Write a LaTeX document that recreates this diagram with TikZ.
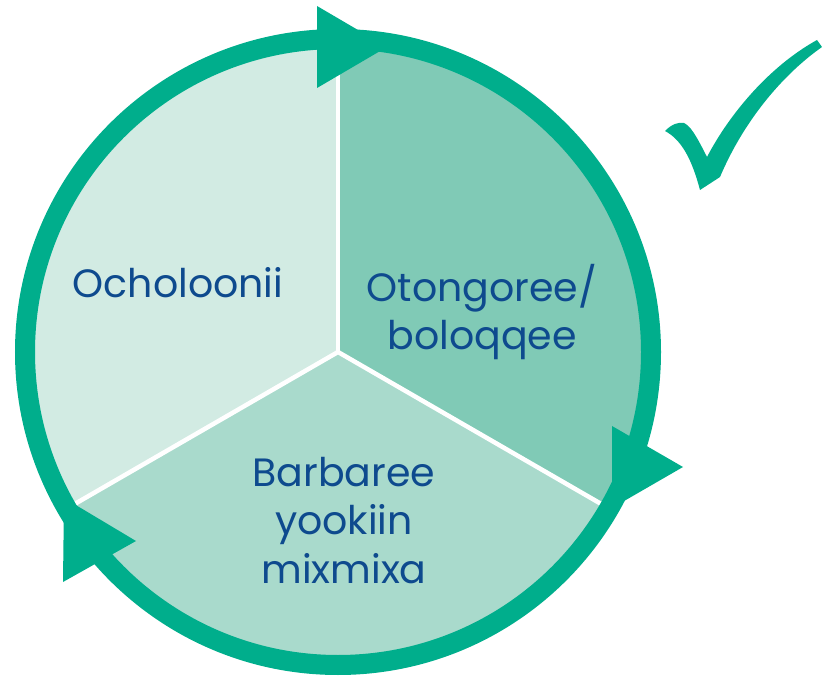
\documentclass[tikz,border=0pt]{standalone}
\usepackage{fontspec}
\setmainfont{Poppins}
\definecolor{ringc}{HTML}{00AE8C}
\definecolor{secA}{HTML}{D2EBE3}
\definecolor{secB}{HTML}{80CAB6}
\definecolor{secC}{HTML}{A9DACC}
\definecolor{txtc}{HTML}{0E4A8E}
\begin{document}
\begin{tikzpicture}[x=1pt,y=1pt,
  lbl/.style={text=txtc,font=\fontsize{39.5}{48.5}\selectfont,align=center,inner sep=0pt},
  divider/.style={draw=white,line width=4.5pt},
  ringline/.style={draw=ringc,line width=20pt},
  arrowtri/.style={fill=ringc,draw=none}]
\useasboundingbox (0,0) rectangle (822,678);
\coordinate (c) at (338,326);
% sectors
\fill[secA] (c) -- ++(90:313) arc[start angle=90,end angle=210,radius=313] -- cycle;
\fill[secB] (c) -- ++(-30:313) arc[start angle=-30,end angle=90,radius=313] -- cycle;
\fill[secC] (c) -- ++(210:313) arc[start angle=210,end angle=330,radius=313] -- cycle;
% dividers
\draw[divider] (c) -- ++(90:313);
\draw[divider] (c) -- ++(210:313);
\draw[divider] (c) -- ++(330:313);
% ring
\draw[ringline] (c) circle[radius=313];
% arrowheads
\fill[arrowtri] (317,672) -- (317,590) -- (387,631) -- cycle;
\fill[arrowtri] (612,252) -- (612,170) -- (683,211) -- cycle;
\fill[arrowtri] (64,180) -- (63,96) -- (136,137) -- cycle;
% check mark
\fill[ringc] (665,547) .. controls (672,554) and (678,556) .. (684,555)
  .. controls (690,552) and (695,545) .. (707,521)
  .. controls (730,565) and (770,612) .. (817,638) -- (822,631)
  .. controls (785,605) and (745,560) .. (720,501) -- (700,488)
  .. controls (692,518) and (682,538) .. (665,547) -- cycle;
% labels (base anchor = baseline of last line)
\node[lbl,anchor=base] (t1) at (178,380) {Ocholoonii};
\node[lbl,anchor=base] (t2) at (482,328) {Otongoree/\\boloqqee};
\node[lbl,anchor=base] (t3) at (344,95) {Barbaree\\yookiin\\mixmixa};
\end{tikzpicture}
\end{document}
